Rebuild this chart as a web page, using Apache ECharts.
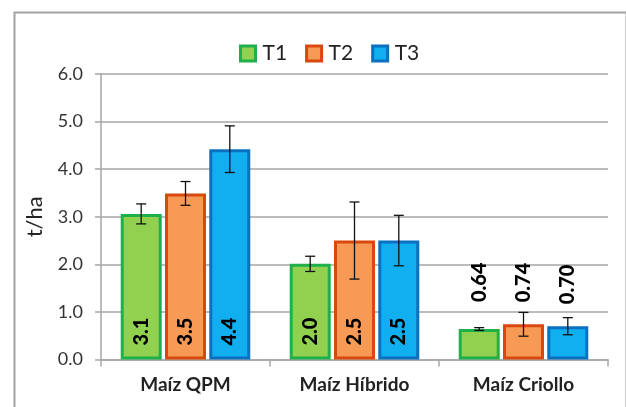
<!DOCTYPE html>
<html>
<head>
<meta charset="utf-8">
<script src="https://cdn.jsdelivr.net/npm/echarts@6/dist/echarts.min.js"></script>
<style>
html,body{margin:0;padding:0;background:#fff;}
#chart{width:626px;height:407px;}
</style>
</head>
<body>
<div id="chart"></div>
<script>
var categories = ['Maíz QPM', 'Maíz Híbrido', 'Maíz Criollo'];
var seriesNames = ['T1', 'T2', 'T3'];
var valuesT1 = [3.06, 2.01, 0.64];
var valuesT2 = [3.49, 2.50, 0.74];
var valuesT3 = [4.42, 2.50, 0.70];
var errT1 = [0.21, 0.16, 0.03];
var errT2 = [0.25, 0.81, 0.25];
var errT3 = [0.49, 0.53, 0.18];
var labelsT1 = ['3.1', '2.0', '0.64'];
var labelsT2 = ['3.5', '2.5', '0.74'];
var labelsT3 = ['4.4', '2.5', '0.70'];
var yTicks = ['0.0', '1.0', '2.0', '3.0', '4.0', '5.0', '6.0'];

var FONT = 'Lato';
var fills = ['#92d050', '#f79a55', '#12aff0'];
var borders = ['#1fb04a', '#d9480f', '#0a70c0'];
var BAR_W = 41;
var BAR_GAP_PX = 3.3;
var offsets = [-(BAR_W + BAR_GAP_PX), 0, (BAR_W + BAR_GAP_PX)];

var allValues = [valuesT1, valuesT2, valuesT3];
var allErr = [errT1, errT2, errT3];
var allLabels = [labelsT1, labelsT2, labelsT3];
var topLabelDist = [27, 22, 22];

var series = [];
seriesNames.forEach(function (name, s) {
  var data = allValues[s].map(function (v, i) {
    var item = { value: v };
    if (i === 2) {
      item.label = {
        position: 'top', distance: topLabelDist[s]
      };
    }
    return item;
  });
  series.push({
    name: name,
    type: 'bar',
    barWidth: BAR_W,
    barGap: '8%',
    data: data,
    itemStyle: { color: fills[s], borderColor: borders[s], borderWidth: 3 },
    label: {
      show: true,
      position: 'insideBottom',
      distance: 14,
      rotate: 90,
      align: 'left',
      verticalAlign: 'middle',
      fontFamily: FONT,
      fontWeight: 900,
      fontSize: 20,
      color: '#000',
      formatter: function (p) { return allLabels[s][p.dataIndex]; }
    },
    emphasis: { disabled: true }
  });
});

seriesNames.forEach(function (name, s) {
  var d = allValues[s].map(function (v, i) {
    return [i, v - allErr[s][i], v + allErr[s][i]];
  });
  series.push({
    type: 'custom',
    name: name + '_err',
    data: d,
    z: 10,
    silent: true,
    encode: { x: 0, y: [1, 2] },
    renderItem: function (params, api) {
      var lo = api.coord([api.value(0), api.value(1)]);
      var hi = api.coord([api.value(0), api.value(2)]);
      var x = lo[0] + offsets[s];
      var cap = 5;
      var st = { stroke: '#111', lineWidth: 1.3 };
      return {
        type: 'group',
        children: [
          { type: 'line', shape: { x1: x, y1: lo[1], x2: x, y2: hi[1] }, style: st },
          { type: 'line', shape: { x1: x - cap, y1: lo[1], x2: x + cap, y2: lo[1] }, style: st },
          { type: 'line', shape: { x1: x - cap, y1: hi[1], x2: x + cap, y2: hi[1] }, style: st }
        ]
      };
    }
  });
});

var chart = echarts.init(document.getElementById('chart'));
chart.setOption({
  animation: false,
  backgroundColor: '#fff',
  graphic: [{
    type: 'rect', left: 12, top: 10,
    shape: { width: 612, height: 396 },
    style: { fill: 'none', stroke: '#a3a3a3', lineWidth: 2 },
    silent: true
  }],
  legend: {
    data: seriesNames.map(function (n, i) {
      return { name: n, itemStyle: { color: fills[i], borderColor: borders[i], borderWidth: 3 } };
    }),
    left: 234,
    top: 38,
    itemWidth: 15,
    itemHeight: 15,
    itemGap: 18,
    icon: 'rect',
    textStyle: { fontFamily: FONT, fontSize: 21, color: '#222', padding: [0, 0, 0, 2] }
  },
  grid: { left: 101, right: 18, top: 74, bottom: 47.5 },
  xAxis: {
    type: 'category',
    data: categories,
    axisLine: { lineStyle: { color: '#a6a6a6', width: 1.5 } },
    axisTick: { show: true, length: 7, lineStyle: { color: '#a6a6a6', width: 1.5 } },
    axisLabel: { fontFamily: FONT, fontWeight: 'bold', fontSize: 19, color: '#222', margin: 16 }
  },
  yAxis: {
    type: 'value',
    min: 0, max: 6, interval: 1,
    name: 't/ha',
    nameLocation: 'middle',
    nameGap: 55,
    nameRotate: 90,
    nameTextStyle: { fontFamily: FONT, fontSize: 22, color: '#222' },
    axisLine: { show: true, lineStyle: { color: '#a6a6a6', width: 1.5 } },
    axisTick: { show: true, length: 6, lineStyle: { color: '#a6a6a6', width: 1.5 } },
    splitLine: { lineStyle: { color: '#a6a6a6', width: 1.5 } },
    axisLabel: {
      fontFamily: FONT, fontSize: 18, color: '#333', margin: 18,
      formatter: function (v) { return yTicks[Math.round(v)]; }
    }
  },
  series: series
});
</script>
</body>
</html>
